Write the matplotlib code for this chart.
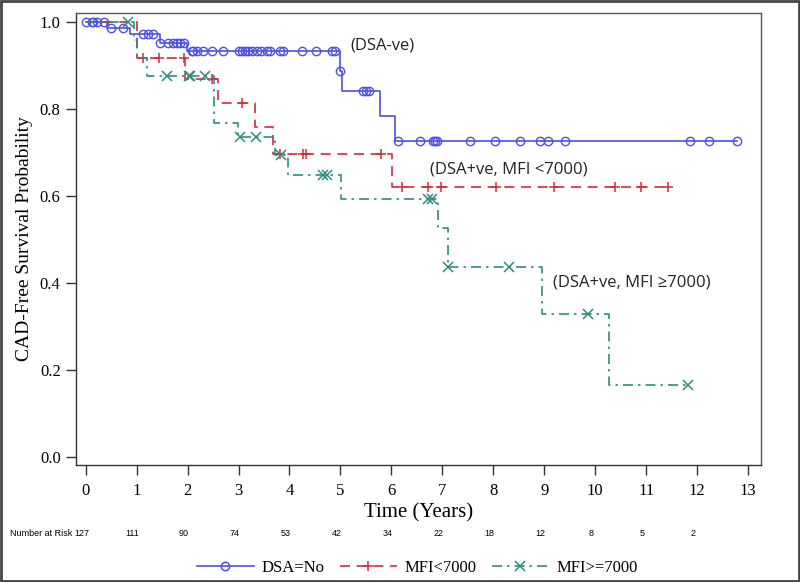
import numpy as np
import matplotlib
matplotlib.use("Agg")
import matplotlib.pyplot as plt
from matplotlib.lines import Line2D
from matplotlib.patches import Rectangle
import matplotlib.transforms as mtransforms

# ---------------- data ----------------
groups = ["DSA=No", "MFI<7000", "MFI>=7000"]

blue_event_t = [0.41, 0.87, 1.46, 1.98, 4.99, 5.04, 5.77, 6.07]
blue_event_s = [0.985, 0.971, 0.951, 0.932, 0.887, 0.840, 0.784, 0.726]
blue_censor_t = [0.0, 0.12, 0.15, 0.22, 0.35, 0.50, 0.74, 1.13, 1.23, 1.33, 1.46,
                 1.62, 1.72, 1.79, 1.85, 1.92, 2.08, 2.11, 2.18, 2.31, 2.47, 2.70,
                 3.00, 3.06, 3.13, 3.19, 3.26, 3.36, 3.45, 3.55, 3.62, 3.81, 3.88,
                 4.24, 4.53, 4.83, 4.89, 5.00, 5.45, 5.51, 5.56, 6.12, 6.56, 6.82,
                 6.85, 6.89, 7.54, 8.03, 8.52, 8.91, 9.07, 9.40, 11.87, 12.23, 12.79]
blue_end = 12.79

red_event_t = [1.00, 1.95, 2.60, 3.32, 3.68, 6.02]
red_event_s = [0.916, 0.868, 0.813, 0.757, 0.697, 0.621]
red_censor_t = [1.13, 1.43, 1.92, 2.47, 3.06, 3.81, 4.26, 4.32, 5.79, 6.20, 6.72,
                6.98, 8.06, 9.20, 10.38, 10.89, 11.43]
red_end = 11.43

green_event_t = [0.95, 1.00, 1.20, 2.52, 2.98, 3.72, 3.98, 5.02, 6.92, 7.11, 8.96, 10.28]
green_event_s = [0.958, 0.917, 0.875, 0.768, 0.736, 0.694, 0.648, 0.592, 0.526,
                 0.437, 0.329, 0.166]
green_censor_t = [0.84, 1.59, 2.02, 2.05, 2.34, 3.03, 3.34, 3.83, 4.66, 4.73, 6.72,
                  6.79, 7.11, 8.31, 9.86, 11.82]
green_end = 11.82

risk_times = list(range(13))
risk_counts = [127, 111, 90, 74, 53, 42, 34, 22, 18, 12, 8, 5, 2]

annotations = ["(DSA-ve)", "(DSA+ve, MFI <7000)", "(DSA+ve, MFI \u22657000)"]
annot_pos = [(5.19, 0.945), (6.75, 0.66), (9.17, 0.40)]

xticks = list(range(14))
yticks = [0.0, 0.2, 0.4, 0.6, 0.8, 1.0]

# ---------------- styles ----------------
colors = ["#4f4fe8", "#d42a3c", "#2f8c7e"]
blue, red, green = colors

serif = "Liberation Serif"
sans_ann = "Open Sans"


def step_arrays(ev_t, ev_s, end):
    t = np.concatenate([[0.0], ev_t, [end]])
    s = np.concatenate([[1.0], ev_s, [ev_s[-1]]])
    return t, s


def surv_at(ev_t, ev_s, times):
    ev_t = np.asarray(ev_t)
    ev_s = np.asarray(ev_s)
    out = []
    for tt in times:
        idx = np.searchsorted(ev_t, tt, side="right") - 1
        out.append(1.0 if idx < 0 else ev_s[idx])
    return np.array(out)


fig = plt.figure(figsize=(8.0, 5.82), dpi=100)
ax = fig.add_axes([0.095, 0.201, 0.856, 0.777])

specs = [
    (blue_event_t, blue_event_s, blue_censor_t, blue_end, blue, "-", "o"),
    (red_event_t, red_event_s, red_censor_t, red_end, red, (0, (6, 4)), "+"),
    (green_event_t, green_event_s, green_censor_t, green_end, green,
     (0, (6, 3, 1.5, 3)), "x"),
]

handles = []
for (et, es, ct, end, col, ls, mk), name in zip(specs, groups):
    t, s = step_arrays(et, es, end)
    ax.step(t, s, where="post", color=col, lw=1.2, linestyle=ls)
    cy = surv_at(et, es, ct)
    if mk == "o":
        ax.plot(ct, cy, linestyle="none", marker="o", ms=6, mfc="none",
                mec=col, mew=1.0)
    else:
        ax.plot(ct, cy, linestyle="none", marker=mk, ms=7, color=col, mew=1.1)
    handles.append(Line2D([], [], color=col, lw=1.2, linestyle=ls, marker=mk,
                          ms=7 if mk != "o" else 6,
                          mfc="none" if mk == "o" else col, mec=col, mew=1.1))

for txt, (xx, yy) in zip(annotations, annot_pos):
    ax.text(xx, yy, txt, fontsize=12, family=[sans_ann, "DejaVu Sans"],
            ha="left", va="center", color="#222222")

ax.set_xlim(-0.19, 13.25)
ax.set_ylim(-0.018, 1.02)
ax.set_xticks(xticks)
ax.set_yticks(yticks)
ax.set_yticklabels([f"{v:.1f}" for v in yticks])
for lab in ax.get_xticklabels() + ax.get_yticklabels():
    lab.set_family(serif)
    lab.set_fontsize(12)
ax.tick_params(axis="both", direction="out", length=7, width=1.0, color="#333333")
ax.tick_params(axis="x", pad=6)
ax.tick_params(axis="y", pad=4)
for sp in ax.spines.values():
    sp.set_color("#555555")
    sp.set_linewidth(1.0)
ax.spines["left"].set_color("#333333")
ax.spines["bottom"].set_color("#333333")

ax.set_ylabel("CAD-Free Survival Probability", family=serif, fontsize=14, labelpad=5)
fig.text(ax.get_position().x0 + ax.get_position().width / 2, 1 - 513 / 582,
         "Time (Years)", family=serif, fontsize=15, ha="center", va="center")

# number at risk
trans = mtransforms.blended_transform_factory(ax.transData, fig.transFigure)
risk_y = 1 - 534 / 582
fig.text(0.013, risk_y, "Number at Risk", fontsize=6.5, family="Liberation Sans",
         ha="left", va="center")
for tt, n in zip(risk_times, risk_counts):
    ax.text(tt - 0.08, risk_y, str(n), fontsize=6.5, family="Liberation Sans",
            ha="center", va="center", transform=trans, clip_on=False)

leg = fig.legend(handles, groups, loc="center", bbox_to_anchor=(0.522, 1 - 568 / 582),
                 ncol=3, frameon=False, handlelength=3.4, columnspacing=0.9,
                 handletextpad=0.5, prop={"family": serif, "size": 12})

fig.patches.append(Rectangle((0.001, 0.001), 0.998, 0.998, transform=fig.transFigure,
                             fill=False, edgecolor="#444444", lw=2.0))

fig.savefig("out.png", dpi=100)
